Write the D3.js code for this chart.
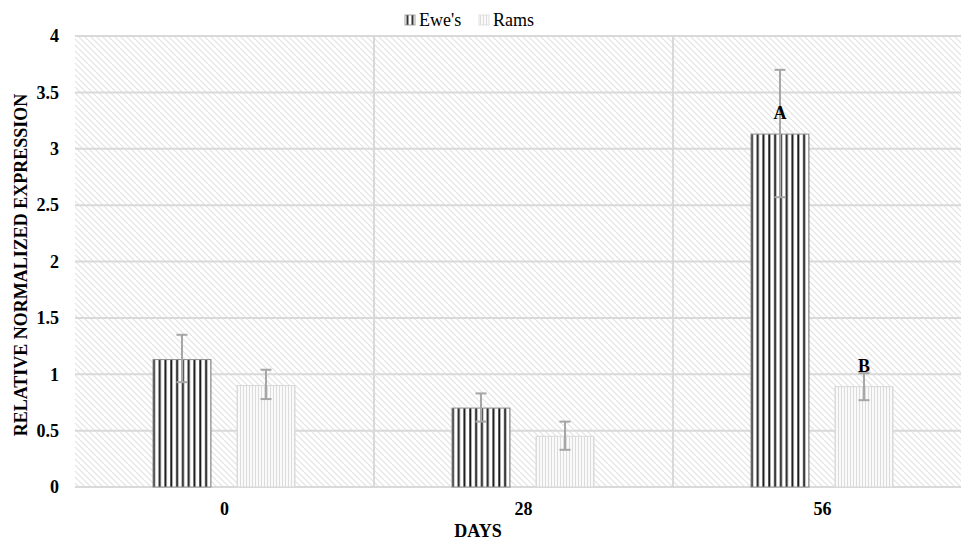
<!DOCTYPE html>
<html>
<head>
<meta charset="utf-8">
<script src="https://cdn.jsdelivr.net/npm/d3@7/dist/d3.min.js"></script>
<style>
html,body{margin:0;padding:0;background:#fff;overflow:hidden;}
svg text{font-family:"Liberation Serif","Times New Roman",serif !important;}
</style>
</head>
<body>
<svg id="chart" width="961" height="541"></svg>
<script>
const categories = ["0", "28", "56"];
const seriesNames = ["Ewe's", "Rams"];
const ewes = [1.13, 0.70, 3.13];
const rams = [0.90, 0.45, 0.89];
const ewesErrLow = [0.93, 0.58, 2.57];
const ewesErrHigh = [1.35, 0.83, 3.70];
const ramsErrLow = [0.78, 0.33, 0.77];
const ramsErrHigh = [1.04, 0.58, 1.01];
const yTicks = [0, 0.5, 1, 1.5, 2, 2.5, 3, 3.5, 4];
const yTickLabels = ["0", "0.5", "1", "1.5", "2", "2.5", "3", "3.5", "4"];
const letters = [["", ""], ["", ""], ["A", "B"]];

const FONT = "Liberation Serif, Times New Roman, serif";
const svg = d3.select("#chart");
const plot = {left: 75, right: 972, top: 36, bottom: 487};

const defs = svg.append("defs");
// background hatch
const bg = defs.append("pattern").attr("id", "bgHatch").attr("patternUnits", "userSpaceOnUse")
  .attr("width", 6).attr("height", 6);
bg.append("rect").attr("width", 6).attr("height", 6).attr("fill", "#fff");
bg.append("path").attr("d", "M-1,-1 L7,7 M-1,5 L1,7 M5,-1 L7,1")
  .attr("stroke", "#e2e2e2").attr("stroke-width", 1.1);
// ewes stripes
const pe = defs.append("pattern").attr("id", "eweStripe").attr("patternUnits", "userSpaceOnUse")
  .attr("width", 5.8).attr("height", 10).attr("x", 153);
pe.append("rect").attr("width", 5.8).attr("height", 10).attr("fill", "#fff");
pe.append("rect").attr("x", 0.3).attr("width", 2).attr("height", 10).attr("fill", "#151515");
// rams stripes
const pr = defs.append("pattern").attr("id", "ramStripe").attr("patternUnits", "userSpaceOnUse")
  .attr("width", 3).attr("height", 10);
pr.append("rect").attr("width", 3).attr("height", 10).attr("fill", "#fafafa");
pr.append("rect").attr("x", 0).attr("width", 1).attr("height", 10).attr("fill", "#dcdcdc");

const x0 = d3.scaleBand().domain(categories).range([plot.left, plot.right]).paddingInner(0).paddingOuter(0);
const x1 = d3.scaleBand().domain(seriesNames).range([78, 220]).paddingInner(26 / 84).paddingOuter(0);
const y = d3.scaleLinear().domain([0, 4]).range([plot.bottom, plot.top]);

// background
svg.append("rect").attr("x", plot.left).attr("y", plot.top)
  .attr("width", plot.right - plot.left).attr("height", plot.bottom - plot.top)
  .attr("fill", "url(#bgHatch)");

// horizontal gridlines
svg.append("g").selectAll("line").data(yTicks).join("line")
  .attr("x1", plot.left).attr("x2", plot.right)
  .attr("y1", d => y(d)).attr("y2", d => y(d))
  .attr("stroke", "#d9d9d9").attr("stroke-width", 2);
// vertical gridlines at category boundaries
svg.append("g").selectAll("line").data(categories.slice(1)).join("line")
  .attr("x1", d => x0(d)).attr("x2", d => x0(d))
  .attr("y1", plot.top).attr("y2", plot.bottom)
  .attr("stroke", "#d9d9d9").attr("stroke-width", 2);

const rows = categories.map((c, i) => ({
  cat: c,
  vals: [
    {s: seriesNames[0], v: ewes[i], lo: ewesErrLow[i], hi: ewesErrHigh[i], fill: "url(#eweStripe)", stroke: "#8c8c8c", letter: letters[i][0]},
    {s: seriesNames[1], v: rams[i], lo: ramsErrLow[i], hi: ramsErrHigh[i], fill: "url(#ramStripe)", stroke: "#d9d9d9", letter: letters[i][1]}
  ]
}));

const groups = svg.append("g").selectAll("g").data(rows).join("g")
  .attr("transform", d => `translate(${x0(d.cat)},0)`);

groups.selectAll("rect").data(d => d.vals).join("rect")
  .attr("x", d => x1(d.s)).attr("width", x1.bandwidth())
  .attr("y", d => y(d.v)).attr("height", d => y(0) - y(d.v))
  .attr("fill", d => d.fill).attr("stroke", d => d.stroke).attr("stroke-width", 1);

// error bars
const eb = groups.selectAll("g.err").data(d => d.vals).join("g").attr("class", "err");
const cx = d => x1(d.s) + x1.bandwidth() / 2;
eb.append("line")
  .attr("x1", cx).attr("x2", cx)
  .attr("y1", d => y(d.lo)).attr("y2", d => y(d.hi))
  .attr("stroke", "#a6a6a6").attr("stroke-width", 2);
eb.append("line")
  .attr("x1", d => cx(d) - 5.5).attr("x2", d => cx(d) + 5.5)
  .attr("y1", d => y(d.hi)).attr("y2", d => y(d.hi))
  .attr("stroke", "#a6a6a6").attr("stroke-width", 2);
eb.append("line")
  .attr("x1", d => cx(d) - 5.5).attr("x2", d => cx(d) + 5.5)
  .attr("y1", d => y(d.lo)).attr("y2", d => y(d.lo))
  .attr("stroke", "#a6a6a6").attr("stroke-width", 2);

// letters
groups.selectAll("text.letter").data(d => d.vals.filter(v => v.letter)).join("text")
  .attr("class", "letter")
  .attr("x", cx)
  .attr("y", d => y(d.v) - 15)
  .attr("text-anchor", "middle")
  .attr("font-family", FONT)
  .attr("font-size", 18).attr("font-weight", "bold").attr("fill", "#000")
  .text(d => d.letter);

// y axis labels
const yAxis = d3.axisLeft(y).tickValues(yTicks).tickFormat((d, i) => yTickLabels[i]).tickSize(0).tickPadding(16);
const ya = svg.append("g").attr("transform", `translate(${plot.left},0)`).call(yAxis)
  .attr("font-family", FONT);
ya.select(".domain").remove();
ya.selectAll("text").attr("font-size", 18).attr("font-weight", "bold").attr("fill", "#000")
  .attr("font-family", FONT);

// x axis labels
const xAxis = d3.axisBottom(x0).tickSize(0).tickPadding(15);
const xa = svg.append("g").attr("transform", `translate(0,${plot.bottom})`).call(xAxis)
  .attr("font-family", FONT);
xa.select(".domain").remove();
xa.selectAll("text").attr("font-size", 18).attr("font-weight", "bold").attr("fill", "#000")
  .attr("font-family", FONT);

// axis titles
svg.append("text").attr("x", 478).attr("y", 537).attr("text-anchor", "middle")
  .attr("font-family", FONT)
  .attr("font-size", 18).attr("font-weight", "bold").text("DAYS");
svg.append("text").attr("transform", "translate(27,265) rotate(-90)").attr("text-anchor", "middle")
  .attr("font-family", FONT)
  .attr("font-size", 18).attr("font-weight", "bold").text("RELATIVE NORMALIZED EXPRESSION");

// legend
const pl = defs.append("pattern").attr("id", "eweLeg").attr("patternUnits", "userSpaceOnUse")
  .attr("width", 5).attr("height", 10).attr("x", 406);
pl.append("rect").attr("width", 5).attr("height", 10).attr("fill", "#fff");
pl.append("rect").attr("x", 0.5).attr("width", 2).attr("height", 10).attr("fill", "#333");
const legend = svg.append("g");
const legendItems = [
  {name: seriesNames[0], x: 405, fill: "url(#eweLeg)", stroke: "#8c8c8c"},
  {name: seriesNames[1], x: 479, fill: "url(#ramStripe)", stroke: "#d9d9d9"}
];
legendItems.forEach(it => {
  legend.append("rect").attr("x", it.x).attr("y", 15).attr("width", 10).attr("height", 10)
    .attr("fill", it.fill).attr("stroke", it.stroke).attr("stroke-width", 0.8);
  legend.append("text").attr("x", it.x + 14).attr("y", 26).attr("font-family", FONT)
    .attr("font-size", 18).attr("fill", "#000").text(it.name);
});
</script>
</body>
</html>
